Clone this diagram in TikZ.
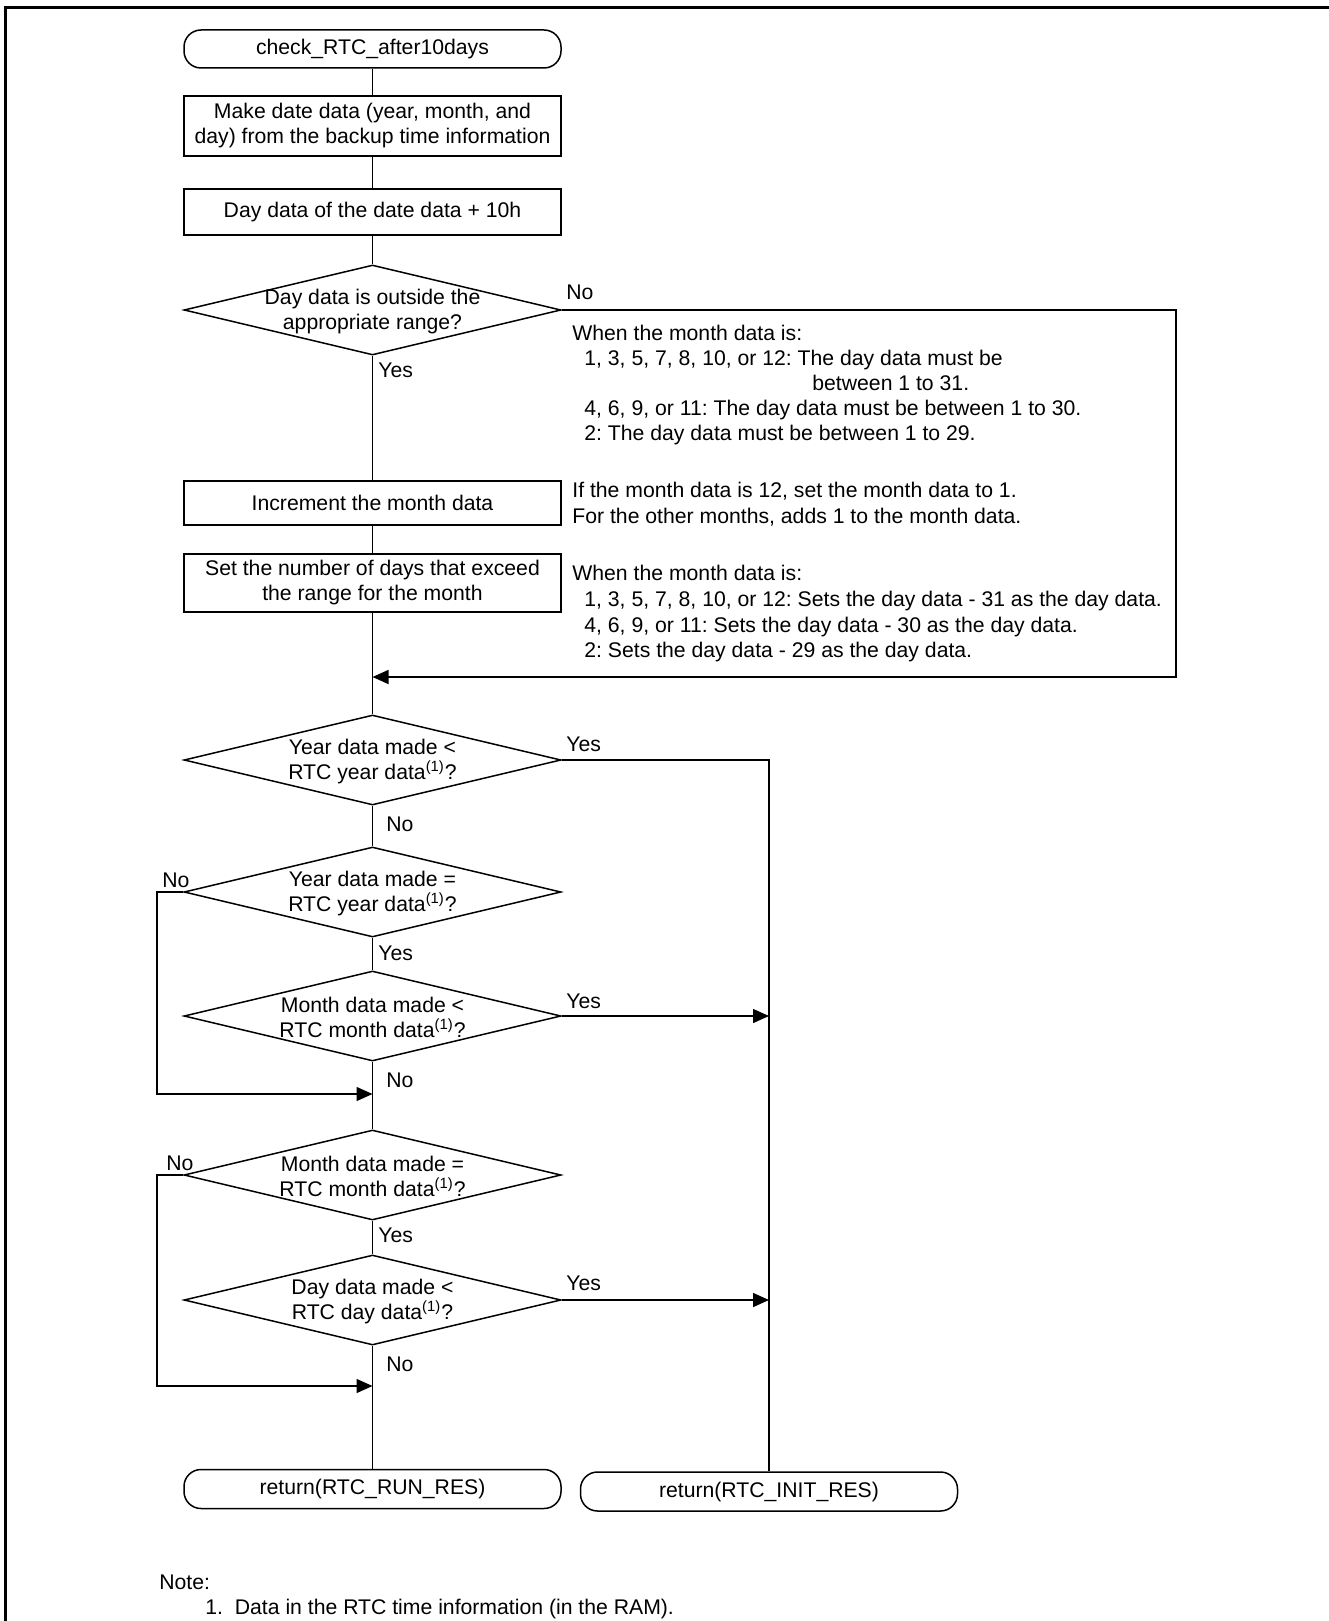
\documentclass[tikz,border=0pt]{standalone}
\usepackage{fontspec}
\setmainfont{Liberation Sans}
\usetikzlibrary{arrows.meta,shapes.geometric}
\frenchspacing
\begin{document}
\begin{tikzpicture}[x=0.5pt,y=-0.5pt,
  every node/.style={font=\fontsize{10.6pt}{12.5pt}\selectfont},
  line/.style={line width=0.75pt},
  arr/.style={line width=0.75pt,-{Triangle[length=8pt,width=7pt]}},
  term/.style={draw,line width=0.75pt,rectangle,rounded corners=8.5pt,minimum width=188.5pt,inner sep=0pt,align=center},
  proc/.style={draw,line width=0.75pt,rectangle,minimum width=188.5pt,inner sep=0pt,align=center},
  dec/.style={draw,line width=0.75pt,diamond,minimum width=188.5pt,minimum height=45pt,inner sep=0pt},
  dtext/.style={inner sep=0pt,align=center},
  lab/.style={inner sep=0pt,anchor=west,text height=7.6pt,text depth=0pt},
  ann/.style={inner sep=0pt,anchor=base west}
]
\useasboundingbox (0,0) rectangle (1328,1621);
\draw[line width=1.5pt] (5,8) rectangle (1360,1660);

% main column
\node[term,minimum height=19pt] (start) at (372.5,49) {check\_RTC\_after10days};
\node[proc,minimum height=30pt] (b1) at (372.5,126) {Make date data (year, month, and\\day) from the backup time information};
\node[proc,minimum height=23pt] (b2) at (372.5,212) {Day data of the date data + 10h};
\node[dec] (d1) at (372.5,310) {};
\node[dtext] (d1t) at (372.5,312) {Day data is outside the\\appropriate range?};
\node[proc,minimum height=22pt] (b3) at (372.5,503) {Increment the month data};
\node[proc,minimum height=29pt] (b4) at (372.5,583) {Set the number of days that exceed\\the range for the month};
\coordinate (j1) at (372.5,677);
\coordinate (rx) at (1176,677);
\node[dec] (d2) at (372.5,760) {};
\node[dtext] (d2t) at (372.5,761.5) {Year data made <\\RTC year data\textsuperscript{(1)}?};
\node[dec] (d3) at (372.5,892) {};
\node[dtext] (d3t) at (372.5,893.5) {Year data made =\\RTC year data\textsuperscript{(1)}?};
\node[dec] (d4) at (372.5,1016) {};
\node[dtext] (d4t) at (372.5,1017.5) {Month data made <\\RTC month data\textsuperscript{(1)}?};
\coordinate (j2) at (372.5,1094);
\node[dec] (d5) at (372.5,1175) {};
\node[dtext] (d5t) at (372.5,1176.5) {Month data made =\\RTC month data\textsuperscript{(1)}?};
\node[dec] (d6) at (372.5,1300) {};
\node[dtext] (d6t) at (372.5,1301.5) {Day data made <\\RTC day data\textsuperscript{(1)}?};
\coordinate (j3) at (372.5,1386);
\node[term,minimum height=19.5pt] (t1) at (372.5,1489) {return(RTC\_RUN\_RES)};
\node[term,minimum height=19.5pt] (t2) at (769,1491.5) {return(RTC\_INIT\_RES)};

% connectors
\draw[line] (start) -- (b1);
\draw[line] (b1) -- (b2);
\draw[line] (b2) -- (d1);
\draw[line] (d1) -- (b3);
\draw[line] (b3) -- (b4);
\draw[line] (b4.south) -- (d2.north);
\draw[line] (d2) -- (d3);
\draw[line] (d3) -- (d4);
\draw[line] (d4) -- (d5);
\draw[line] (d5) -- (d6);
\draw[line] (d6) -- (t1);
\draw[arr] (d1.east) -| (rx) -- (j1);
\draw[line] (d2.east) -| (t2.north);
\draw[arr] (d4.east) -- (d4.east -| t2.north);
\draw[arr] (d6.east) -- (d6.east -| t2.north);
\draw[arr] (d3.west) -- ++(-26.5,0) |- (j2);
\draw[arr] (d5.west) -- ++(-26.5,0) |- (j3);

% branch labels
\node[lab] (l1) at (566,292) {No};
\node[lab] (l2) at (378,370) {Yes};
\node[lab] (l3) at (566,744) {Yes};
\node[lab] (l4) at (386,824) {No};
\node[lab] (l5) at (162,880) {No};
\node[lab] (l6) at (378,953) {Yes};
\node[lab] (l7) at (566,1001) {Yes};
\node[lab] (l8) at (386,1080) {No};
\node[lab] (l9) at (166,1163) {No};
\node[lab] (l10) at (378,1235) {Yes};
\node[lab] (l11) at (566,1283) {Yes};
\node[lab] (l12) at (386,1364) {No};

% annotations
\node[ann] (a1) at (572,340) {When the month data is:};
\node[ann] (a2) at (584,365) {1, 3, 5, 7, 8, 10, or 12: The day data must be};
\node[ann] (a3) at (812,390) {between 1 to 31.};
\node[ann] (a4) at (584,415) {4, 6, 9, or 11: The day data must be between 1 to 30.};
\node[ann] (a5) at (584,440) {2: The day data must be between 1 to 29.};
\node[ann] (b31) at (572,497.5) {If the month data is 12, set the month data to 1.};
\node[ann] (b32) at (572,523.5) {For the other months, adds 1 to the month data.};
\node[ann] (c1) at (572,580.5) {When the month data is:};
\node[ann] (c2) at (584,606.5) {1, 3, 5, 7, 8, 10, or 12: Sets the day data - 31 as the day data.};
\node[ann] (c3) at (584,632.5) {4, 6, 9, or 11: Sets the day data - 30 as the day data.};
\node[ann] (c4) at (584,657.5) {2: Sets the day data - 29 as the day data.};

% note
\node[ann] (note) at (159,1589) {Note:};
\node[ann] (note1) at (205,1614) {1.~~Data in the RTC time information (in the RAM).};
\end{tikzpicture}
\end{document}
